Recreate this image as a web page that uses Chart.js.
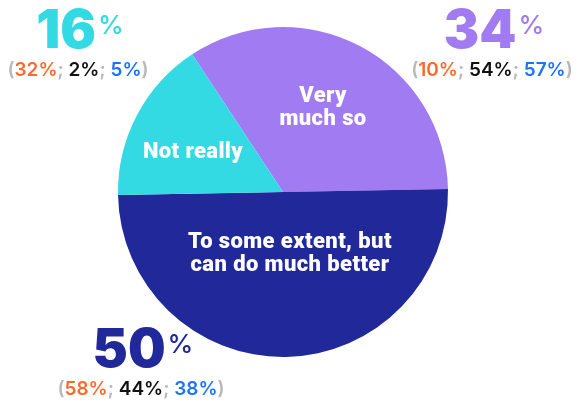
<!DOCTYPE html>
<html>
<head>
<meta charset="utf-8">
<script src="https://cdn.jsdelivr.net/npm/chart.js@4"></script>
<style>
html,body{margin:0;padding:0;background:#fff;}
#wrap{width:578px;height:405px;position:relative;}
</style>
</head>
<body>
<div id="wrap"><canvas id="c" width="578" height="405"></canvas></div>
<script>
const categories = ['Very much so', 'To some extent, but can do much better', 'Not really'];
const insideLines = [['Very', 'much so'], ['To some extent, but', 'can do much better'], ['Not really']];
const shares = [34, 50, 16];
const subOrange = [10, 58, 32];
const subBlack = [54, 44, 2];
const subBlue = [57, 38, 5];
const sliceColors = ['#a17bf2', '#21289a', '#33d9e3'];

const FONT = 'Roboto, "Liberation Sans", sans-serif';
const BIG = 'Inter, Roboto, sans-serif';

// annotation placement, relative to pie centre (dx, baseline dy) and inside label offsets
const outsidePos = [
  {dx: 211, dy: -144},   // 34
  {dx: -140, dy: 175},   // 50
  {dx: -203, dy: -144}   // 16
];
const insidePos = [
  {dx: 40, dy: -90},
  {dx: 7, dy: 56},
  {dx: -90, dy: -34}
];

function drawSegments(ctx, segs, cx, y) {
  let total = 0;
  segs.forEach(s => { ctx.font = s.font; total += ctx.measureText(s.t).width + (s.gap || 0); });
  let x = cx - total / 2;
  segs.forEach(s => {
    ctx.font = s.font;
    ctx.fillStyle = s.c;
    x += (s.gap || 0);
    ctx.fillText(s.t, x, y + (s.dy || 0));
    x += ctx.measureText(s.t).width;
  });
}

const labelPlugin = {
  id: 'labels',
  afterDatasetsDraw(chart) {
    const ctx = chart.ctx;
    const arc = chart.getDatasetMeta(0).data[0];
    const cx = arc.x, cy = arc.y;
    ctx.save();
    ctx.textBaseline = 'alphabetic';
    ctx.textAlign = 'left';
    // inside labels
    ctx.fillStyle = '#ffffff';
    ctx.font = '900 22px ' + FONT;
    if ('letterSpacing' in ctx) ctx.letterSpacing = '0.4px';
    insideLines.forEach((lines, i) => {
      const p = insidePos[i];
      lines.forEach((ln, k) => {
        const w = ctx.measureText(ln).width;
        ctx.fillText(ln, cx + p.dx - w / 2, cy + p.dy + k * 23);
      });
    });
    if ('letterSpacing' in ctx) ctx.letterSpacing = '0px';
    // outside labels
    shares.forEach((v, i) => {
      const p = outsidePos[i];
      const x = cx + p.dx, y = cy + p.dy;
      drawSegments(ctx, [
        {t: String(v), font: '900 53px ' + BIG, c: sliceColors[i]},
        {t: '%', font: '500 26px ' + BIG, c: sliceColors[i], dy: -14, gap: 2}
      ], x, y);
      const g = '#b8b8b8';
      const f = '600 19px ' + BIG;
      drawSegments(ctx, [
        {t: '(', font: f, c: g},
        {t: subOrange[i] + '%', font: f, c: '#ff6a2c'},
        {t: '; ', font: f, c: g},
        {t: subBlack[i] + '%', font: f, c: '#111111'},
        {t: '; ', font: f, c: g},
        {t: subBlue[i] + '%', font: f, c: '#1a74ff'},
        {t: ')', font: f, c: g}
      ], x - 2, y + 28);
    });
    ctx.restore();
  }
};

new Chart(document.getElementById('c'), {
  type: 'pie',
  data: {
    labels: categories,
    datasets: [{
      data: shares,
      backgroundColor: sliceColors,
      borderWidth: 0,
      hoverOffset: 0
    }]
  },
  options: {
    responsive: false,
    animation: false,
    rotation: -33.4,
    layout: {padding: {top: 27, bottom: 48, left: 118, right: 130}},
    plugins: {legend: {display: false}, tooltip: {enabled: false}}
  },
  plugins: [labelPlugin]
});
</script>
</body>
</html>
